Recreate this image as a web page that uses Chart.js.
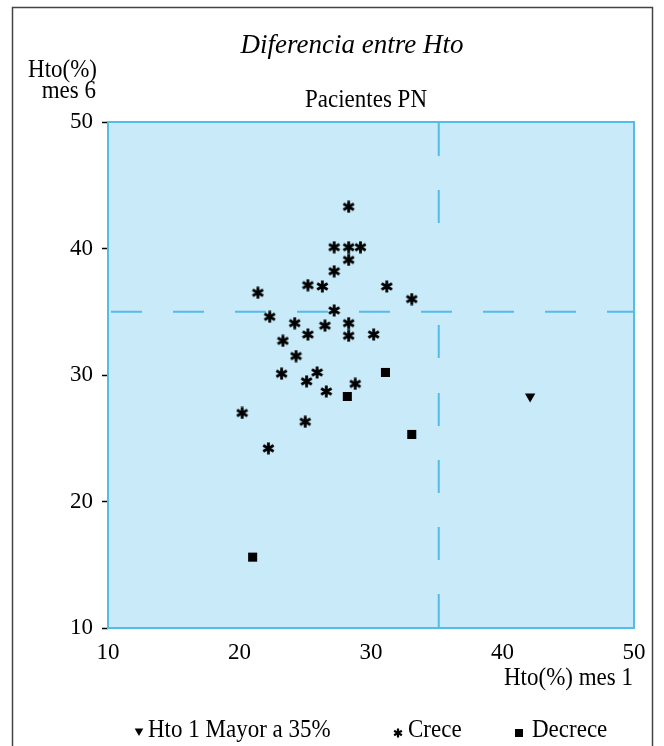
<!DOCTYPE html>
<html>
<head>
<meta charset="utf-8">
<script src="https://cdn.jsdelivr.net/npm/chart.js@4/dist/chart.umd.min.js"></script>
<style>
  html, body { margin: 0; padding: 0; background: #ffffff; }
  #wrap { position: relative; width: 664px; height: 746px; }
  canvas { display: block; }
</style>
</head>
<body>
<div id="wrap"><canvas id="c" width="664" height="746"></canvas></div>
<script>
// ---- Data ----
const titleText = 'Diferencia entre Hto';
const subtitleText = 'Pacientes PN';
const yTitleLines = ['Hto(%)', 'mes 6'];
const xTitleText = 'Hto(%) mes 1';

const xTicks = [10, 20, 30, 40, 50];
const yTicks = [10, 20, 30, 40, 50];
const thresholdX = 35;
const thresholdY = 35;

const seriesLabels = ['Hto 1 Mayor a 35%', 'Crece', 'Decrece'];

const mayorX = [42.1];
const mayorY = [28.3];

const creceX = [28.3, 27.2, 28.3, 29.2, 28.3, 27.2, 25.2, 26.3, 31.2, 21.4, 33.1, 27.2, 22.3, 24.2, 28.3,
                26.5, 25.2, 28.3, 30.2, 23.3, 24.3, 23.2, 25.9, 25.1, 28.8, 26.6, 20.2, 25.0, 22.2];
const creceY = [43.3, 40.1, 40.1, 40.1, 39.1, 38.2, 37.1, 37.0, 37.0, 36.5, 36.0, 35.1, 34.6, 34.1, 34.1,
                33.9, 33.2, 33.1, 33.2, 32.7, 31.5, 30.1, 30.2, 29.5, 29.3, 28.7, 27.0, 26.3, 24.2];

const decreceX = [31.1, 28.2, 33.1, 21.0];
const decreceY = [30.2, 28.3, 25.3, 15.6];

// ---- helpers ----
const toPts = (xs, ys) => xs.map((x, i) => ({ x: x, y: ys[i] }));
const SERIF = '"Liberation Serif", "Times New Roman", serif';
const PLOT_FILL = '#c8eaf9';
const PLOT_LINE = '#55bbe9';

function makeAsterisk(size, lw) {
  const cv = document.createElement('canvas');
  cv.width = size; cv.height = size;
  const g = cv.getContext('2d');
  const c = size / 2;
  const r = size / 2 - 0.5;
  g.strokeStyle = '#000';
  g.lineWidth = lw;
  g.lineCap = 'butt';
  [90, 30, 150].forEach(deg => {
    const a = deg * Math.PI / 180;
    g.beginPath();
    g.moveTo(c - r * Math.cos(a), c - r * Math.sin(a));
    g.lineTo(c + r * Math.cos(a), c + r * Math.sin(a));
    g.stroke();
  });
  return cv;
}
const asteriskPlot = makeAsterisk(13, 2.8);
const asteriskLegend = makeAsterisk(10, 2.2);

const decorPlugin = {
  id: 'decor',
  beforeDraw(chart) {
    const { ctx, chartArea: a } = chart;
    ctx.save();
    ctx.fillStyle = PLOT_FILL;
    ctx.fillRect(a.left, a.top, a.right - a.left, a.bottom - a.top);
    ctx.restore();
  },
  beforeDatasetsDraw(chart) {
    const { ctx, chartArea: a, scales } = chart;
    ctx.save();
    ctx.strokeStyle = PLOT_LINE;
    ctx.lineWidth = 2;
    ctx.strokeRect(a.left, a.top, a.right - a.left, a.bottom - a.top);
    const yPix = scales.y.getPixelForValue(thresholdY);
    ctx.setLineDash([31, 31]);
    ctx.beginPath();
    ctx.moveTo(a.left + 3, yPix);
    ctx.lineTo(a.right, yPix);
    ctx.stroke();
    const xPix = scales.x.getPixelForValue(thresholdX) + 2;
    ctx.setLineDash([34, 34, 33, 102, 33, 35, 33, 34, 33, 34, 33, 34, 33, 10]);
    ctx.beginPath();
    ctx.moveTo(xPix, a.top);
    ctx.lineTo(xPix, a.bottom);
    ctx.stroke();
    ctx.restore();
  },
  afterDraw(chart) {
    const { ctx } = chart;
    ctx.save();
    ctx.strokeStyle = '#444444';
    ctx.lineWidth = 1.5;
    ctx.strokeRect(12.5, 7.5, 640, 800);
    ctx.fillStyle = '#000';
    ctx.textBaseline = 'alphabetic';
    const txt = (s, x, y, font, align, sy) => {
      ctx.save();
      ctx.font = font;
      ctx.textAlign = align;
      ctx.translate(x, y);
      ctx.scale(1, sy);
      ctx.fillText(s, 0, 0);
      ctx.restore();
    };
    txt(titleText, 352, 53, 'italic 27px ' + SERIF, 'center', 1.0);
    txt(subtitleText, 366, 107, '23px ' + SERIF, 'center', 1.08);
    txt(yTitleLines[0], 97, 77, '23px ' + SERIF, 'right', 1.08);
    txt(yTitleLines[1], 96, 98, '23px ' + SERIF, 'right', 1.08);
    txt(xTitleText, 633, 685, '23px ' + SERIF, 'right', 1.08);
    const items = [
      { ds: 0, mx: 139, my: 731, tx: 148, r: 5 },
      { ds: 1, mx: 398, my: 733, tx: 408, r: 5, img: asteriskLegend },
      { ds: 2, mx: 519, my: 733, tx: 532, r: 5.7 }
    ];
    items.forEach(it => {
      const ds = chart.data.datasets[it.ds];
      ctx.save();
      ctx.fillStyle = '#000';
      ctx.strokeStyle = '#000';
      ctx.lineWidth = 0;
      Chart.helpers.drawPoint(ctx, {
        pointStyle: it.img || ds.pointStyle,
        rotation: ds.rotation || 0,
        radius: it.r,
        borderWidth: 0
      }, it.mx, it.my);
      ctx.restore();
      txt(ds.label, it.tx, 737, '23px ' + SERIF, 'left', 1.08);
    });
    ctx.restore();
  }
};

const tickSetter = (arr) => function (scale) {
  scale.ticks = arr.map(v => ({ value: v }));
};

new Chart(document.getElementById('c'), {
  type: 'scatter',
  data: {
    datasets: [
      {
        label: seriesLabels[0],
        data: toPts(mayorX, mayorY),
        pointStyle: 'triangle',
        rotation: 180,
        pointRadius: 6,
        pointHoverRadius: 6,
        backgroundColor: '#000',
        borderColor: '#000',
        borderWidth: 0
      },
      {
        label: seriesLabels[1],
        data: toPts(creceX, creceY),
        pointStyle: asteriskPlot,
        pointRadius: 6.5,
        pointHoverRadius: 6.5,
        backgroundColor: '#000',
        borderColor: '#000',
        borderWidth: 0
      },
      {
        label: seriesLabels[2],
        data: toPts(decreceX, decreceY),
        pointStyle: 'rect',
        pointRadius: 6.4,
        pointHoverRadius: 6.4,
        backgroundColor: '#000',
        borderColor: '#000',
        borderWidth: 0
      }
    ]
  },
  options: {
    responsive: false,
    devicePixelRatio: 1,
    animation: false,
    events: [],
    layout: { padding: { top: 122, right: 30, bottom: 78, left: 0 } },
    plugins: {
      legend: { display: false },
      title: { display: false },
      tooltip: { enabled: false }
    },
    scales: {
      x: {
        type: 'linear',
        min: 10, max: 50,
        afterBuildTicks: tickSetter(xTicks),
        afterFit(scale) { scale.height = 40; },
        grid: { display: false, drawTicks: false },
        border: { display: false },
        ticks: {
          color: '#000',
          padding: 11,
          font: { family: SERIF, size: 23 },
          maxRotation: 0
        }
      },
      y: {
        type: 'linear',
        min: 10, max: 50,
        afterBuildTicks: tickSetter(yTicks),
        afterFit(scale) { scale.width = 108; },
        grid: {
          drawOnChartArea: false,
          drawTicks: true,
          tickLength: 6,
          tickColor: '#000',
          tickWidth: 1.5
        },
        border: { display: false },
        ticks: {
          color: '#000',
          padding: 9,
          font: { family: SERIF, size: 23 }
        }
      }
    }
  },
  plugins: [decorPlugin]
});
</script>
</body>
</html>
